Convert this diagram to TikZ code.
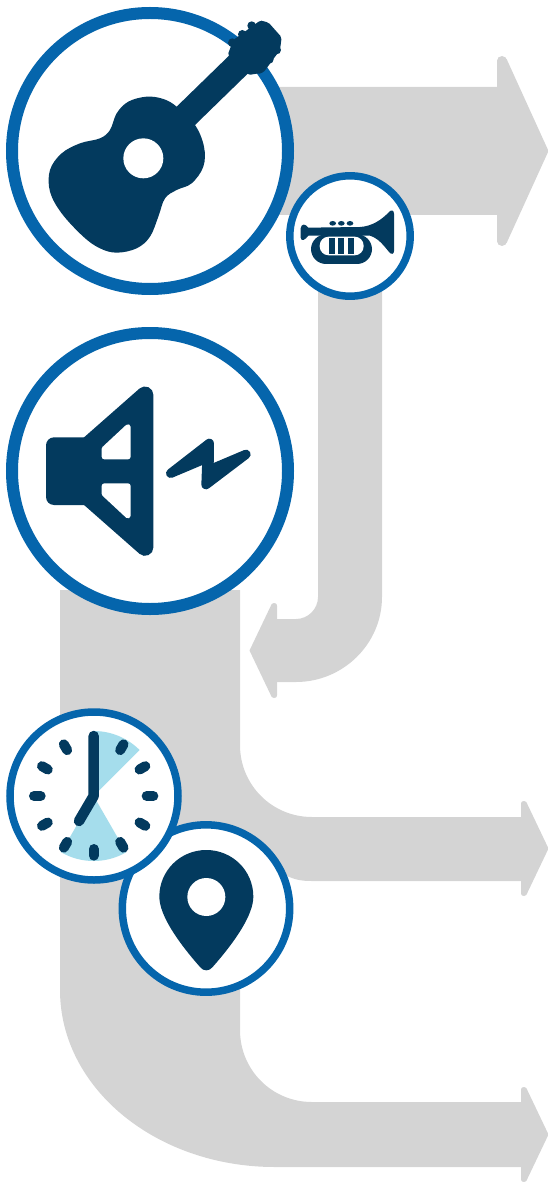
\documentclass[tikz,border=0pt]{standalone}
\definecolor{ringblue}{HTML}{0565AC}
\definecolor{navy}{HTML}{033A5E}
\definecolor{flowgray}{HTML}{D4D4D4}
\definecolor{skyblue}{HTML}{A5DDEC}
\tikzset{
  flow/.style={fill=flowgray,draw=none},
  bigring/.style={draw=ringblue,fill=white,line width=12pt},
  midring/.style={draw=ringblue,fill=white,line width=7.5pt},
  icon/.style={fill=navy,draw=none},
  hole/.style={fill=white,draw=none},
  zoomed/.style={scale=0.33333},
}
% small arrow head: back x, centre y, direction
\newcommand{\smallhead}[3]{%
  \begin{scope}[shift={(#1,#2)},xscale=#3]
  \fill[flow] (0,-44.5) -- (1,-47) -- (5.6,-45.9) -- (27.5,0) -- (5.6,45.9) -- (1,47) -- (0,44.5) -- cycle;
  \fill[flow] (3,-44.5) circle (3);
  \fill[flow] (3,44.5) circle (3);
  \end{scope}
}
\begin{document}
\begin{tikzpicture}[x=1pt,y=-1pt]
\useasboundingbox (0,0) rectangle (548,1182);
% flows
\fill[flow] (270,87) -- (498,87) -- (498,215) -- (382,215) -- (382,597)
  .. controls (382,644) and (343,682) .. (296,682) -- (276,682) -- (276,619) -- (296,619)
  .. controls (308,619) and (318,609) .. (318,597) -- (318,215) -- (270,215) -- cycle;
% large head
\fill[flow] (497,61) -- (499,57) -- (506.6,59) -- (548.5,151) -- (506.6,243) -- (499,245) -- (497,241) -- cycle;
\fill[flow] (502,61) circle (5);
\fill[flow] (502,241) circle (5);
\smallhead{277}{650.5}{-1}
\fill[flow] (60,590) -- (240,590) -- (240,745)
  .. controls (240,785) and (272,817) .. (312,817) -- (522,817) -- (522,881) -- (312,881)
  .. controls (302,881) and (295,880) .. (285,875) -- (240,900) -- (240,1030)
  .. controls (240,1070) and (272,1102) .. (312,1102) -- (522,1102) -- (522,1167) -- (275,1167)
  .. controls (156,1167) and (60,1088) .. (60,990) -- cycle;
\smallhead{521}{848.5}{1}
\smallhead{521}{1134.5}{1}
% rings
\draw[bigring] (150,151) circle (138);
\draw[bigring] (150,471) circle (138);
\draw[midring] (350,236) circle (60.2);
\draw[midring] (206,908.5) circle (83.7);
\draw[midring] (94,796) circle (84);
% guitar
\begin{scope}[zoomed]
\fill[icon] plot[smooth cycle,tension=0.6] coordinates {(530,320)(490,297)(440,290)(385,305)(350,340)(330,390)(300,415)(240,430)(185,460)(150,510)(150,575)(185,640)(250,710)(300,745)(350,758)(410,745)(450,710)(475,650)(495,595)(530,570)(575,550)(610,500)(612,440)(585,375)};
\fill[icon] (530,320) -- (720,135) -- (775,190) -- (585,375) -- (500,420) -- cycle;
\fill[icon,rounded corners=2pt] (683,165) -- (700,120) -- (780,62) -- (805,67) -- (845,112) -- (840,150) -- (790,218) -- (745,225) -- cycle;
\foreach \px/\py in {697/128,727/103,755/77,785/75,830/150,808/178,778/208}{\fill[icon] (\px,\py) circle (13);}
\fill[hole] (430,475) circle (60);
\end{scope}
% trumpet
\begin{scope}[shift={(280,165)},zoomed]
\fill[icon] (62,190) .. controls (64,175) and (76,176) .. (85,188)
  -- (240,186) .. controls (275,184) and (305,165) .. (328,140)
  .. controls (334,133) and (342,136) .. (342,146) -- (342,258)
  .. controls (342,268) and (334,269) .. (328,262)
  .. controls (310,240) and (295,220) .. (270,212) -- (85,212)
  .. controls (76,224) and (64,232) .. (62,218) -- cycle;
\fill[icon,rounded corners=15pt] (93,208) rectangle (276,297);
\fill[hole,rounded corners=9pt] (119,215) rectangle (251,271);
\fill[icon] (147,218) rectangle (165,268);
\fill[icon] (175,218) rectangle (193,268);
\fill[icon] (203,218) rectangle (221,268);
\fill[icon] (158,175) ellipse (10 and 7);
\fill[icon] (184,175) ellipse (10 and 7);
\fill[icon] (210,175) ellipse (10 and 7);
\end{scope}
% speaker
\begin{scope}[shift={(0,320)},zoomed]
\filldraw[navy,line width=16.7pt,line join=round] (174.8,453.5) -- (435,224.5) -- (435,682.5) -- cycle;
\fill[icon,rounded corners=8pt] (138,352) rectangle (300,555);
\filldraw[white,line width=5.3pt,line join=round] (384,320.5) -- (384,410) -- (313,410) -- (313,386.6) -- cycle;
\filldraw[white,line width=5.3pt,line join=round] (384,587.5) -- (384,498) -- (313,498) -- (313,521.4) -- cycle;
\filldraw[navy,line width=9.3pt,line join=round] (512,460) -- (628,370) -- (627,450) -- (738,403) -- (618,494) -- (621,414) -- cycle;
\end{scope}
% pin
\begin{scope}[shift={(0,700)},zoomed]
\fill[icon] (478,590) .. controls (478,512) and (541,450) .. (619,450)
  .. controls (697,450) and (760,512) .. (760,590)
  .. controls (760,645) and (705,725) .. (637,802)
  .. controls (628,814) and (610,814) .. (601,802)
  .. controls (533,725) and (478,645) .. (478,590) -- cycle;
\fill[hole] (619,591) circle (57);
\end{scope}
% clock
\begin{scope}[shift={(0,700)},zoomed]
\coordinate (cc) at (281,288);
\fill[skyblue] (cc) -- +(-90:195) arc (-90:-45:195) -- cycle;
\fill[skyblue] (cc) -- +(-240:195) arc (-240:-300:195) -- cycle;
\foreach \a in {0,30,60,90,120,150,180,210,240,300,330}{
  \draw[navy,line width=10pt,line cap=round] (cc) ++(\a:159) -- ++(\a:20);
}
\draw[navy,line width=10.5pt,line cap=round,line join=round] (281,108) -- (281,288) -- (237,363);
\end{scope}
\end{tikzpicture}
\end{document}
